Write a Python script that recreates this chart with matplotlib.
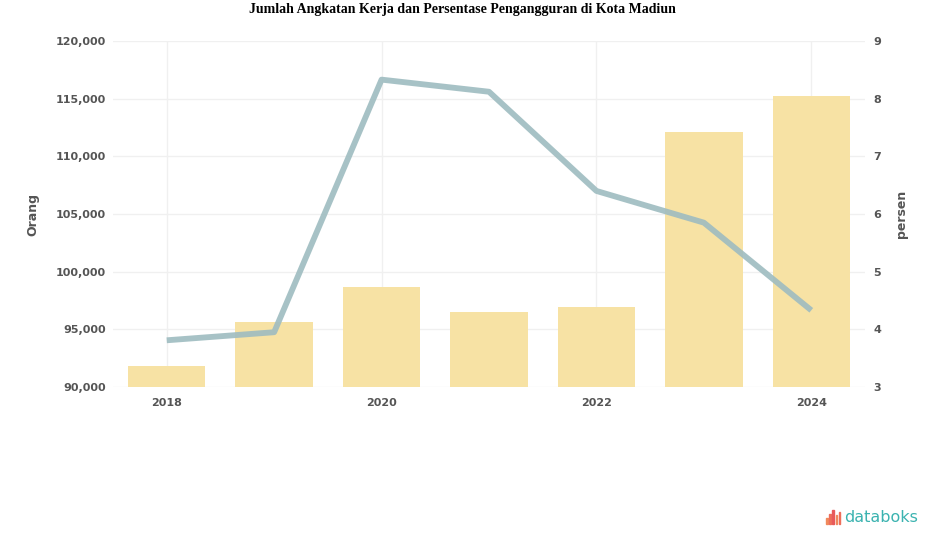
import matplotlib
matplotlib.use("Agg")
import matplotlib.pyplot as plt
from matplotlib.patches import Rectangle

# data
years = ["2018", "2019", "2020", "2021", "2022", "2023", "2024"]
angkatan_kerja = [91800, 95600, 98700, 96500, 96900, 112100, 115200]
pengangguran_pct = [3.81, 3.95, 8.33, 8.12, 6.40, 5.85, 4.33]

left_ticks = [90000, 95000, 100000, 105000, 110000, 115000, 120000]
right_ticks = [3, 4, 5, 6, 7, 8, 9]

BAR_COLOR = "#f7e2a4"
LINE_COLOR = "#9ebcc0"
TICK_COLOR = "#555555"

fig = plt.figure(figsize=(9.25, 5.47), dpi=100)
ax = fig.add_axes([113 / 925, 1 - 387 / 547, (865 - 113) / 925, (387 - 41) / 547])

x = list(range(len(years)))
ax.bar(x, [v - left_ticks[0] for v in angkatan_kerja], bottom=left_ticks[0],
       width=0.72, color=BAR_COLOR, zorder=2)
ax.set_xlim(-0.5, len(years) - 0.5)
ax.set_ylim(left_ticks[0], left_ticks[-1])
ax.set_yticks(left_ticks)
ax.set_yticklabels([f"{v:,}" for v in left_ticks])
ax.set_xticks(x[::2])
ax.set_xticklabels(years[::2])
ax.grid(axis="both", color="#f0f0f0", linewidth=1, zorder=0)
ax.set_ylabel("Orang", color=TICK_COLOR, fontsize=9, fontweight="bold", labelpad=12)

ax2 = ax.twinx()
ax2.plot(x, pengangguran_pct, color=LINE_COLOR, linewidth=4.2, alpha=0.9,
         solid_capstyle="butt", zorder=3)
ax2.set_ylim(right_ticks[0], right_ticks[-1])
ax2.set_yticks(right_ticks)
ax2.set_ylabel("persen", color=TICK_COLOR, fontsize=9, fontweight="bold", labelpad=10)

for a in (ax, ax2):
    for s in a.spines.values():
        s.set_visible(False)
    a.tick_params(length=0, colors=TICK_COLOR, labelsize=8)
    for lbl in a.get_xticklabels() + a.get_yticklabels():
        lbl.set_fontweight("bold")
ax.tick_params(axis="y", pad=5)
ax.tick_params(axis="x", pad=8)
ax2.tick_params(axis="y", pad=6)

fig.text(0.5, 1 - 10 / 547, "Jumlah Angkatan Kerja dan Persentase Pengangguran di Kota Madiun",
         ha="center", va="center", fontsize=10, fontweight="bold",
         family="Liberation Serif")

# databoks logo
heights = [6, 10, 14, 9, 12]
cols = ["#f08a5d", "#ee6e5a", "#e85a5a", "#f08a5d", "#ee6e5a"]
for i, (h, c) in enumerate(zip(heights, cols)):
    fig.patches.append(Rectangle(((826 + i * 3.2) / 925, 1 - 524 / 547),
                                 1.6 / 925, h / 547, color=c,
                                 transform=fig.transFigure, figure=fig))
fig.text(844 / 925, 1 - 518 / 547, "databoks", color="#3bb3b0", fontsize=11.5,
         ha="left", va="center", family="DejaVu Sans")

fig.savefig("out.png", dpi=100)
